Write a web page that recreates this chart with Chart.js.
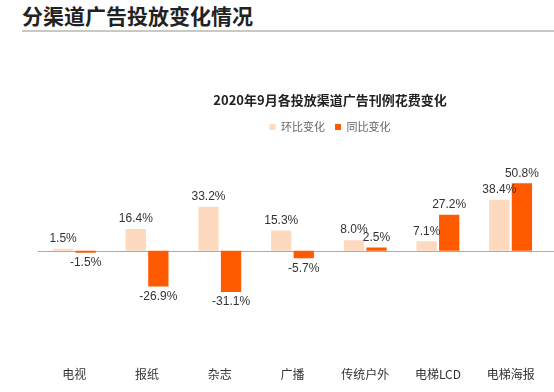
<!DOCTYPE html>
<html><head><meta charset="utf-8">
<script src="https://cdn.jsdelivr.net/npm/chart.js@4"></script>
<style>
html,body{margin:0;padding:0;background:#fff;overflow:hidden;width:554px;height:392px;}
#pt{position:absolute;left:22px;top:2px;font:bold 21px "Noto Sans CJK SC",sans-serif;color:#222;white-space:nowrap;line-height:26px;}
#ln{position:absolute;left:22px;top:30px;width:532px;height:2px;background:#cac9c1;}
#wrap{position:absolute;left:0;top:0;width:660px;height:392px;}
</style></head>
<body>
<div id="pt">分渠道广告投放变化情况</div>
<div id="ln"></div>
<div id="wrap"><canvas id="c" width="660" height="392"></canvas></div>
<script>
const categories = ["电视","报纸","杂志","广播","传统户外","电梯LCD","电梯海报"];
const momValues = [1.5, 16.4, 33.2, 15.3, 8.0, 7.1, 38.4];
const yoyValues = [-1.5, -26.9, -31.1, -5.7, 2.5, 27.2, 50.8];
const seriesNames = ["环比变化","同比变化"];
const chartTitle = "2020年9月各投放渠道广告刊例花费变化";

const zeroLinePlugin = {
  id: 'zeroline',
  beforeDatasetsDraw(chart) {
    const ctx = chart.ctx, y = Math.round(chart.scales.y.getPixelForValue(0)) + 0.5;
    ctx.save();
    ctx.strokeStyle = '#aaa';
    ctx.lineWidth = 1;
    ctx.beginPath();
    ctx.moveTo(chart.chartArea.left, y);
    ctx.lineTo(554, y);
    ctx.stroke();
    ctx.restore();
  }
};

const labelPlugin = {
  id: 'vlabels',
  afterDatasetsDraw(chart) {
    const ctx = chart.ctx;
    ctx.save();
    ctx.font = '12px "Liberation Sans", Arial, sans-serif';
    ctx.fillStyle = '#333';
    ctx.textAlign = 'center';
    chart.data.datasets.forEach((ds, i) => {
      chart.getDatasetMeta(i).data.forEach((bar, j) => {
        const v = ds.data[j];
        const txt = v.toFixed(1) + '%';
        if (v >= 0) { ctx.textBaseline = 'bottom'; ctx.fillText(txt, bar.x, bar.y - 4); }
        else { ctx.textBaseline = 'top'; ctx.fillText(txt, bar.x, bar.y + 4); }
      });
    });
    ctx.restore();
  }
};

new Chart(document.getElementById('c'), {
  type: 'bar',
  data: {
    labels: categories,
    datasets: [
      {label: seriesNames[0], data: momValues, backgroundColor: '#fdd9bf', categoryPercentage: 0.62, barPercentage: 0.9},
      {label: seriesNames[1], data: yoyValues, backgroundColor: '#ff5a00', categoryPercentage: 0.62, barPercentage: 0.9}
    ]
  },
  options: {
    responsive: false,
    animation: false,
    layout: {padding: {left: 0, right: 0, top: 92, bottom: 0}},
    plugins: {
      title: {display: true, text: chartTitle, color: '#222', font: {size: 13, weight: 'bold', family: '"Noto Sans CJK SC", sans-serif'}, padding: {top: 0, bottom: 4}},
      legend: {display: true, labels: {boxWidth: 6, boxHeight: 6, color: '#666', padding: 10, font: {size: 11, family: '"Noto Sans CJK SC", sans-serif'}}},
      tooltip: {enabled: false}
    },
    scales: {
      x: {grid: {display: false}, border: {display: false}, ticks: {color: '#333', padding: 10, font: {size: 12, family: '"Noto Sans CJK SC", sans-serif'}}},
      y: {min: -74.5, max: 81.5, ticks: {display: false}, border: {display: false},
          afterFit: s => { s.width = 38; },
          grid: {display: false}},
      y2: {position: 'right', display: true, min: -74.5, max: 81.5, ticks: {display: false}, border: {display: false},
          grid: {display: false}, afterFit: s => { s.width = 113; }}
    }
  },
  plugins: [zeroLinePlugin, labelPlugin]
});
</script>
</body></html>
